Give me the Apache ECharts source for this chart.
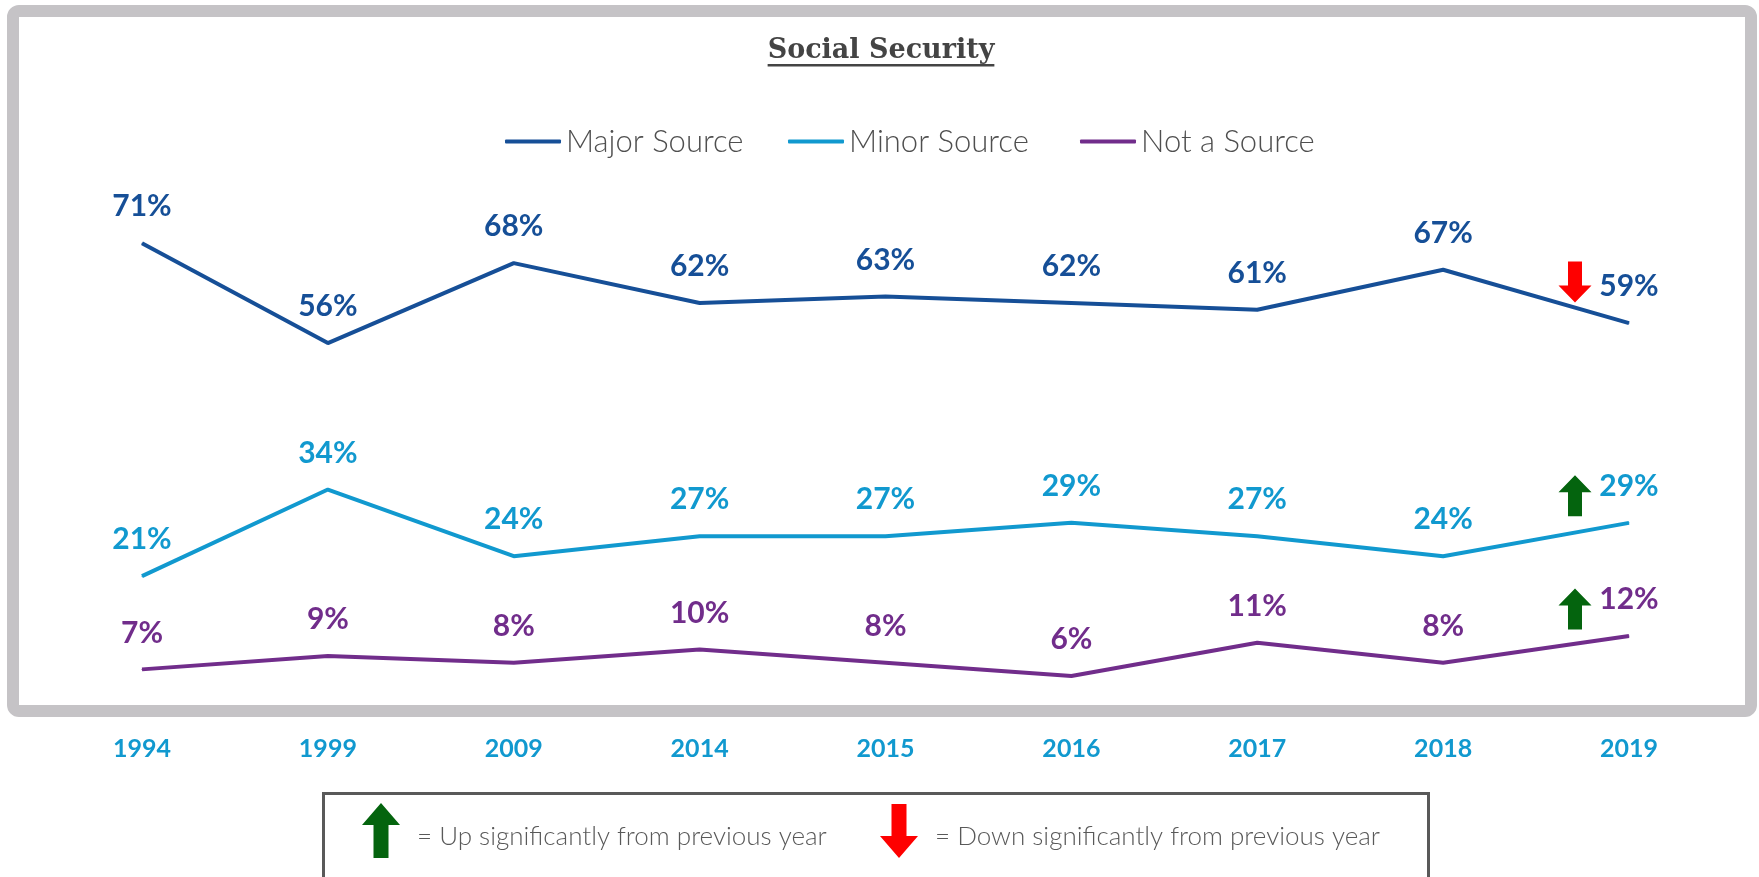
<!DOCTYPE html>
<html>
<head>
<meta charset="utf-8">
<script src="https://cdn.jsdelivr.net/npm/echarts@6/dist/echarts.min.js"></script>
<style>
  html, body { margin: 0; padding: 0; background: #fff; }
  #chart { width: 1759px; height: 877px; }
</style>
</head>
<body>
<div id="chart"></div>
<script>
// ── data ─────────────────────────────────────────
const years = ['1994', '1999', '2009', '2014', '2015', '2016', '2017', '2018', '2019']
const majorSource = [71, 56, 68, 62, 63, 62, 61, 67, 59]
const minorSource = [21, 34, 24, 27, 27, 29, 27, 24, 29]
const notASource = [7, 9, 8, 10, 8, 6, 11, 8, 12]

// significant changes vs previous wave
const sigChanges = [
  { series: 'Major Source', year: '2019', dir: 'down' },
  { series: 'Minor Source', year: '2019', dir: 'up' },
  { series: 'Not a Source', year: '2019', dir: 'up' },
]

const seriesNames = ['Major Source', 'Minor Source', 'Not a Source']
const titleText = 'Social Security'
const keyUpText = '= Up significantly from previous year'
const keyDownText = '= Down significantly from previous year'

// ── style tokens ─────────────────────────────────
const colors = {
  major: '#164f97',
  minor: '#1199cf',
  not: '#712d8b',
  up: '#04640e',
  down: '#fe0000',
  frame: '#c5c3c6',
  text: '#444444',
}
const sans = "'Century Gothic', Lato, sans-serif"
const serif = "Rockwell, 'DejaVu Serif', serif"

const upArrow = 'path://M16.5,0 L33,17 L23.5,17 L23.5,41 L9.5,41 L9.5,17 L0,17 Z'
const downArrow = 'path://M9.5,0 L23.5,0 L23.5,24 L33,24 L16.5,41 L0,24 L9.5,24 Z'

function lineSeries(name, data, color) {
  const marks = sigChanges
    .filter(s => s.series === name)
    .map(s => ({
      coord: [s.year, data[years.indexOf(s.year)]],
      symbol: s.dir === 'up' ? upArrow : downArrow,
      symbolOffset: [-54, s.dir === 'up' ? -27 : -41],
      itemStyle: { color: s.dir === 'up' ? colors.up : colors.down },
    }))

  return {
    name,
    type: 'line',
    data,
    symbol: 'circle',
    symbolSize: 1,
    itemStyle: { color },
    lineStyle: { color, width: 4 },
    label: {
      show: true,
      position: 'top',
      distance: 21,
      formatter: '{c}%',
      color,
      fontFamily: sans,
      fontWeight: 'bold',
      fontSize: 30,
    },
    emphasis: { disabled: true },
    markPoint: {
      silent: true,
      symbolSize: [33, 41],
      label: { show: false },
      data: marks,
    },
  }
}

// one legend per series so each item sits where the original has it
function legendItem(name, left) {
  return {
    data: [name],
    left,
    top: 121,
    icon: 'roundRect',
    itemWidth: 56,
    itemHeight: 4,
    itemGap: 0,
    textStyle: { fontFamily: sans, fontWeight: 300, fontSize: 31, color: '#4f4f4f' },
  }
}

// title width for the underline
const ctx = document.createElement('canvas').getContext('2d')
ctx.font = `bold 27px ${serif}`
const titleW = ctx.measureText(titleText).width

const chart = echarts.init(document.getElementById('chart'))

chart.setOption({
  animation: false,
  grid: { left: 142, right: 130, top: 50, bottom: 161 },
  legend: [
    legendItem(seriesNames[0], 500),
    legendItem(seriesNames[1], 783),
    legendItem(seriesNames[2], 1075),
  ],
  xAxis: {
    type: 'category',
    data: years,
    boundaryGap: false,
    axisLine: { show: false },
    axisTick: { show: false },
    axisLabel: {
      margin: 20,
      color: colors.minor,
      fontFamily: sans,
      fontWeight: 'bold',
      fontSize: 25,
    },
  },
  yAxis: { type: 'value', min: 0, max: 100, show: false },
  series: [
    lineSeries(seriesNames[0], majorSource, colors.major),
    lineSeries(seriesNames[1], minorSource, colors.minor),
    lineSeries(seriesNames[2], notASource, colors.not),
  ],
  graphic: [
    // outer frame
    {
      type: 'rect',
      z: -1,
      shape: { x: 13, y: 11, width: 1738, height: 700, r: 6 },
      style: { fill: 'none', stroke: colors.frame, lineWidth: 12 },
    },
    // title + underline
    {
      type: 'text',
      x: 881,
      y: 51,
      style: {
        text: titleText,
        align: 'center',
        verticalAlign: 'middle',
        font: `bold 27px ${serif}`,
        fill: colors.text,
      },
    },
    {
      type: 'rect',
      shape: { x: 881 - titleW / 2, y: 64, width: titleW, height: 2.5 },
      style: { fill: colors.text },
    },
    // significance key
    {
      type: 'rect',
      shape: { x: 323.5, y: 793.5, width: 1105, height: 120 },
      style: { fill: '#fff', stroke: '#595959', lineWidth: 3 },
    },
    {
      type: 'polygon',
      shape: { points: [[381, 803], [400, 825], [388.5, 825], [388.5, 858], [373.5, 858], [373.5, 825], [362, 825]] },
      style: { fill: colors.up },
    },
    {
      type: 'text',
      x: 417,
      y: 837,
      style: { text: keyUpText, verticalAlign: 'middle', font: `300 26px ${sans}`, fill: '#595959' },
    },
    {
      type: 'polygon',
      shape: { points: [[891.5, 804], [906.5, 804], [906.5, 836], [918, 836], [899, 858], [880, 836], [891.5, 836]] },
      style: { fill: colors.down },
    },
    {
      type: 'text',
      x: 935,
      y: 837,
      style: { text: keyDownText, verticalAlign: 'middle', font: `300 26px ${sans}`, fill: '#595959' },
    },
  ],
})
</script>
</body>
</html>
